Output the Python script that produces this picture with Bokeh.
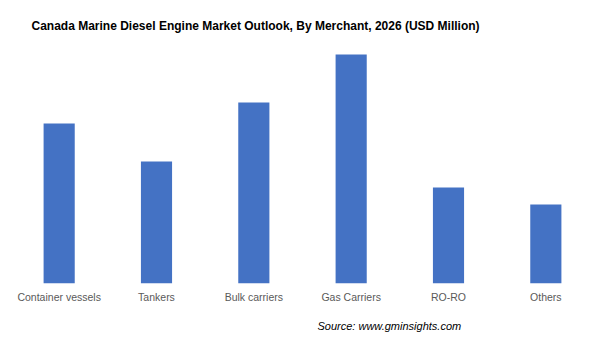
from bokeh.plotting import figure
from bokeh.models import Range1d, FactorRange, ColumnDataSource, Title
from bokeh.embed import file_html
from bokeh.resources import INLINE

categories = ["Container vessels", "Tankers", "Bulk carriers", "Gas Carriers", "RO-RO", "Others"]
values = [160, 122, 181, 229, 96, 79]

title_text = "Canada Marine Diesel Engine Market Outlook, By Merchant, 2026 (USD Million)"
source_text = "Source: www.gminsights.com"

src = ColumnDataSource(data=dict(cat=categories, val=values))

p = figure(width=612, height=344, output_backend="svg", toolbar_location=None,
           x_range=FactorRange(*categories, range_padding=0),
           y_range=Range1d(0, 243),
           min_border_left=10, min_border_right=18, min_border_top=40, min_border_bottom=61)

p.vbar(x="cat", top="val", width=0.32, source=src, color="#4472C4", line_color=None)

p.outline_line_color = None
p.xgrid.grid_line_color = None
p.ygrid.grid_line_color = None
p.yaxis.visible = False
p.xaxis.axis_line_color = None
p.xaxis.major_tick_line_color = None
p.xaxis.minor_tick_line_color = None
p.xaxis.major_tick_out = 0
p.xaxis.major_tick_in = 0
p.xaxis.major_label_text_color = "#595959"
p.xaxis.major_label_text_font = "Liberation Sans"
p.xaxis.major_label_text_font_size = "10.5px"
p.xaxis.major_label_standoff = 7

p.title.text = title_text
p.title.align = "left"
p.title.offset = 21
p.title.standoff = 15
p.title.text_font = "Liberation Sans"
p.title.text_font_style = "bold"
p.title.text_font_size = "12px"
p.title.text_color = "#000000"

p.add_layout(Title(text=source_text, align="left", offset=307, text_font="Liberation Sans",
                   text_font_style="italic", text_font_size="11px", text_color="#000000",
                   standoff=24, vertical_align="bottom"), "below")

open("out.html", "w").write(file_html(p, INLINE))
